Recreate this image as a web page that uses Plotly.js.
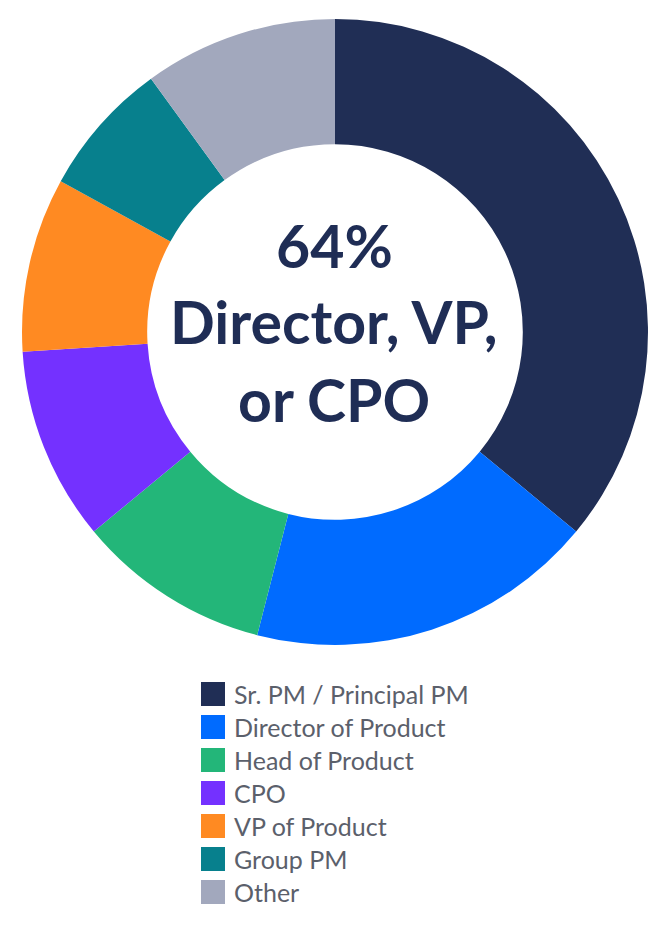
<!DOCTYPE html>
<html>
<head>
<meta charset="utf-8">
<script src="https://cdn.plot.ly/plotly-3.0.1.min.js"></script>
<style>
  html, body { margin: 0; padding: 0; background: #ffffff; }
  #chart { width: 664px; height: 926px; }
</style>
</head>
<body>
<div id="chart"></div>
<script>
// Role breakdown (percent of respondents)
const roles = ["Sr. PM / Principal PM", "Director of Product", "Head of Product", "CPO", "VP of Product", "Group PM", "Other"];
const shares = [36, 18, 10, 10, 9, 7, 10];
const roleColors = ["#202e55", "#006bff", "#23b679", "#7431ff", "#ff8a22", "#07808d", "#a2a8bd"];
const centerLines = ["64%", "Director, VP,", "or CPO"];

const W = 664, H = 926;
const px = v => v / W;          // horizontal pixel -> paper
const py = v => 1 - v / H;      // vertical pixel -> paper

// donut geometry
const cx = 335, cy = 332, R = 313;

const trace = {
  type: "pie",
  labels: roles,
  values: shares,
  marker: { colors: roleColors, line: { width: 0 } },
  hole: 0.6,
  sort: false,
  direction: "clockwise",
  rotation: 0,
  textinfo: "none",
  hoverinfo: "label+percent",
  showlegend: false,
  domain: { x: [px(cx - R), px(cx + R)], y: [py(cy + R), py(cy - R)] }
};

// centre caption
const centerFont = { family: "Lato, 'Open Sans', sans-serif", size: 59, color: "#1f2d55", weight: 700 };
const centerY = [245, 322, 399];
const annotations = centerLines.map((t, i) => ({
  xref: "paper", yref: "paper",
  x: px(334), y: py(centerY[i]),
  xanchor: "center", yanchor: "middle",
  text: t, showarrow: false, font: centerFont
}));

// legend rows: swatch + label
const legTop = 694, legStep = 33, sw = 24, swX = 201, txtX = 232;
const shapes = [];
roles.forEach((r, i) => {
  const yc = legTop + i * legStep;
  shapes.push({
    type: "rect", xref: "paper", yref: "paper",
    x0: px(swX), x1: px(swX + sw), y0: py(yc + sw / 2), y1: py(yc - sw / 2),
    fillcolor: roleColors[i], line: { width: 0 }
  });
  annotations.push({
    xref: "paper", yref: "paper",
    x: px(txtX), y: py(yc), xanchor: "left", yanchor: "middle",
    text: r, showarrow: false,
    font: { family: "Lato, 'Open Sans', sans-serif", size: 25, color: "#5b606b" }
  });
});

const layout = {
  width: W, height: H,
  margin: { l: 0, r: 0, t: 0, b: 0 },
  paper_bgcolor: "#ffffff",
  showlegend: false,
  annotations: annotations,
  shapes: shapes
};

Plotly.newPlot("chart", [trace], layout, { displayModeBar: false, staticPlot: true });
</script>
</body>
</html>
